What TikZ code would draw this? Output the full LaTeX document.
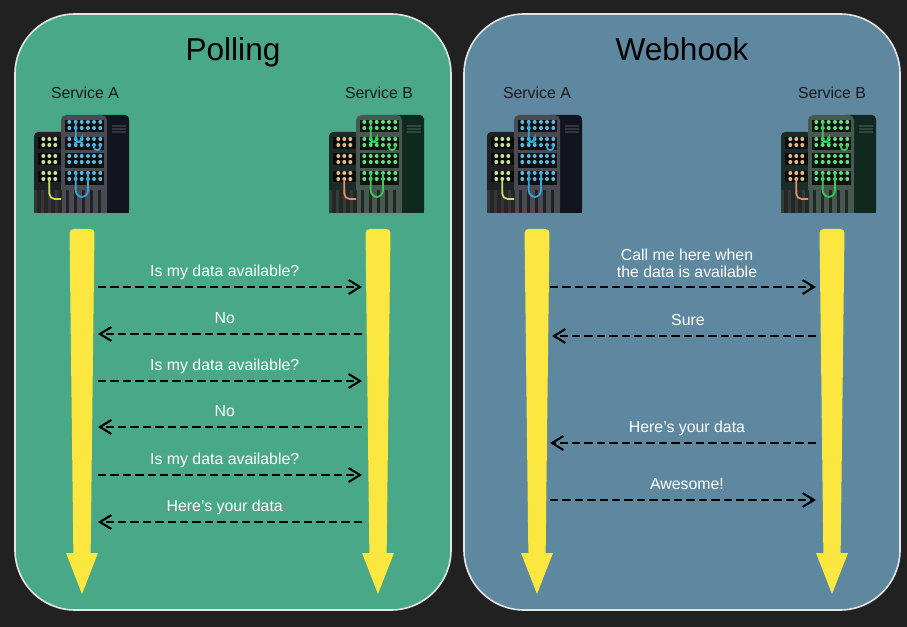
\documentclass[tikz,border=0pt]{standalone}
\usepackage{fontspec}
\setmainfont{Liberation Sans}
\usepackage{xcolor}
\usetikzlibrary{arrows.meta,positioning}

\definecolor{bgdark}{HTML}{212121}
\definecolor{pollgreen}{HTML}{48A888}
\definecolor{hookblue}{HTML}{5E87A0}
\definecolor{lineyellow}{HTML}{FBE73F}
% rack colours, blue version
\definecolor{backA}{HTML}{12151F}
\definecolor{leftA}{HTML}{1E2024}
\definecolor{midA}{HTML}{4A4A52}
\definecolor{dotsA}{HTML}{C9E39A}
\definecolor{dotsAm}{HTML}{58B9E4}
\definecolor{cableA}{HTML}{C8E06A}
\definecolor{cableAm}{HTML}{35A6D8}
% rack colours, green version
\definecolor{backB}{HTML}{10291F}
\definecolor{leftB}{HTML}{1A2B28}
\definecolor{midB}{HTML}{46584F}
\definecolor{dotsB}{HTML}{E8B98A}
\definecolor{dotsBm}{HTML}{5FE07A}
\definecolor{cableB}{HTML}{E0906A}
\definecolor{cableBm}{HTML}{35CC55}

% back, left, middle, left dots, middle dots, left cable, middle cable
\tikzset{
  pics/rack/.style n args={7}{code={
    \fill[#1, rounded corners=3pt] (60,1) rectangle (95,99);
    \fill[#1] (60,60) rectangle (95,99);
    \foreach \y in {12,15,18}
      \draw[white!14!#1, line width=.8pt] (78,\y) -- (92,\y);
    \fill[#2, rounded corners=3pt] (0,18) rectangle (30,99);
    \fill[#2] (0,50) rectangle (30,99);
    \fill[#3, rounded corners=4pt] (27,1) rectangle (73,99);
    \fill[#3] (27,50) rectangle (73,99);
    \foreach \y/\h in {6/12,23/13,39/15,57/14}
      \fill[black!80!#3] (31,\y) rectangle (70,\y+\h);
    \foreach \y/\h in {23/12,39/12,57/11}
      \fill[black!70!#2] (4,\y) rectangle (27,\y+\h);
    \fill[#3!70!black] (0,76) rectangle (27,99);
    \foreach \x in {3,10,17,24}
      \fill[black!85] (\x,76) rectangle (\x+3.5,99);
    \foreach \x in {32,40,48,56,64}
      \fill[black!55!#3] (\x,76) rectangle (\x+3,99);
    \foreach \x in {35.3,41.7,47.7,54,60,66.3}
      \foreach \y in {8,14,25,31,42,48,59,65}
        \fill[#5] (\x,\y) circle (2);
    \foreach \x in {9.3,15.3,21.3}
      \foreach \y in {25,31,42,48,59,65}
        \fill[#4] (\x,\y) circle (2);
    \draw[#6, line width=1.3pt, rounded corners=4pt] (15.3,65) -- (15.3,85) -- (27,85);
    \draw[#7, line width=1.3pt, rounded corners=3pt] (41.7,8) -- (41.7,28) -- (47.7,28) -- (47.7,25);
    \draw[#7, line width=1.3pt, rounded corners=2pt] (60,31) -- (60,36) -- (66.3,36) -- (66.3,31);
    \draw[#7, line width=1.3pt, rounded corners=5pt] (41.7,59) -- (41.7,83) -- (54,83) -- (54,59);
  }}
}
\newcommand{\lifeline}[1]{%
  \fill[lineyellow, rounded corners=3pt] ([xshift=-12.5*.75pt]#1,229) -- ([xshift=12.5*.75pt]#1,229)
    -- ([xshift=8.5*.75pt]#1,565) -- ([xshift=-8.5*.75pt]#1,565) -- cycle;
  \fill[lineyellow] ([xshift=16*.75pt]#1,553) -- (#1,594) -- ([xshift=-16*.75pt]#1,553) -- cycle;
}

\begin{document}
\begin{tikzpicture}[
  x=.75pt, y=-.75pt,
  panel/.style={draw=white!90!black, line width=1.2pt, rounded corners=45pt,
    minimum width=327pt, minimum height=447pt, inner sep=0pt},
  title/.style={font=\fontsize{23.7}{28}\selectfont, text=black,
    text height=17pt, text depth=5pt},
  svc/.style={font=\fontsize{11.9}{14}\selectfont, text=black!90},
  lbl/.style={font=\fontsize{11.9}{13}\selectfont, text=white, align=center,
    inner sep=0pt, text height=.72em, text depth=.2em, above=5pt},
  msg/.style={black, line width=1.5pt, dash pattern=on 6.3pt off 3pt,
    -{Straight Barb[length=8.5pt, width=10.5pt, line width=1.6pt]}}
]
\fill[bgdark] (0,0) rectangle (907,627);
\useasboundingbox (0,0) rectangle (907,627);

% Panels
\node[panel, fill=pollgreen] (poll) at (233,312) {};
\node[panel, fill=hookblue] (hook) at (682,312) {};
\node[title] (pollT) at (233,53) {Polling};
\node[title] (hookT) at (682,53) {Webhook};

% Services
\node[svc] (pollA) at (85,93) {Service A};
\node[svc] (pollB) at (379,93) {Service B};
\node[svc] (hookA) at (537,93) {Service A};
\node[svc] (hookB) at (832,93) {Service B};

\pic at (34,114) {rack={backA}{leftA}{midA}{dotsA}{dotsAm}{cableA}{cableAm}};
\pic at (329,114) {rack={backB}{leftB}{midB}{dotsB}{dotsBm}{cableB}{cableBm}};
\pic at (487,114) {rack={backA}{leftA}{midA}{dotsA}{dotsAm}{cableA}{cableAm}};
\pic at (781,114) {rack={backB}{leftB}{midB}{dotsB}{dotsBm}{cableB}{cableBm}};

% Lifelines
\lifeline{82}
\lifeline{378}
\lifeline{537}
\lifeline{832}

% Polling messages
\coordinate (pa1) at (98,287);  \coordinate (pb1) at (362,287);
\coordinate (pa2) at (98,334);  \coordinate (pb2) at (362,334);
\coordinate (pa3) at (98,381);  \coordinate (pb3) at (362,381);
\coordinate (pa4) at (98,427);  \coordinate (pb4) at (362,427);
\coordinate (pa5) at (98,475);  \coordinate (pb5) at (362,475);
\coordinate (pa6) at (98,522);  \coordinate (pb6) at (362,522);

\draw[msg] (pa1) -- node[lbl, pos=.48] (pl1) {Is my data available?} (pb1);
\draw[msg] (pb2) -- node[lbl, pos=.52] (pl2) {No} (pa2);
\draw[msg] (pa3) -- node[lbl, pos=.48] (pl3) {Is my data available?} (pb3);
\draw[msg] (pb4) -- node[lbl, pos=.52] (pl4) {No} (pa4);
\draw[msg] (pa5) -- node[lbl, pos=.48] (pl5) {Is my data available?} (pb5);
\draw[msg] (pb6) -- node[lbl, pos=.52] (pl6) {Here's your data} (pa6);

% Webhook messages
\coordinate (ha1) at (550,287);  \coordinate (hb1) at (816,287);
\coordinate (ha2) at (552,336);  \coordinate (hb2) at (816,336);
\coordinate (ha3) at (550,443);  \coordinate (hb3) at (816,443);
\coordinate (ha4) at (550,500);  \coordinate (hb4) at (816,500);

\draw[msg] (ha1) -- node[lbl, pos=.515, text height=, text depth=.2em, yshift=-1pt] (hl1) {Call me here when\\the data is available} (hb1);
\draw[msg] (hb2) -- node[lbl, pos=.485] (hl2) {Sure} (ha2);
\draw[msg] (hb3) -- node[lbl, pos=.485] (hl3) {Here's your data} (ha3);
\draw[msg] (ha4) -- node[lbl, pos=.515] (hl4) {Awesome!} (hb4);

\end{tikzpicture}
\end{document}
